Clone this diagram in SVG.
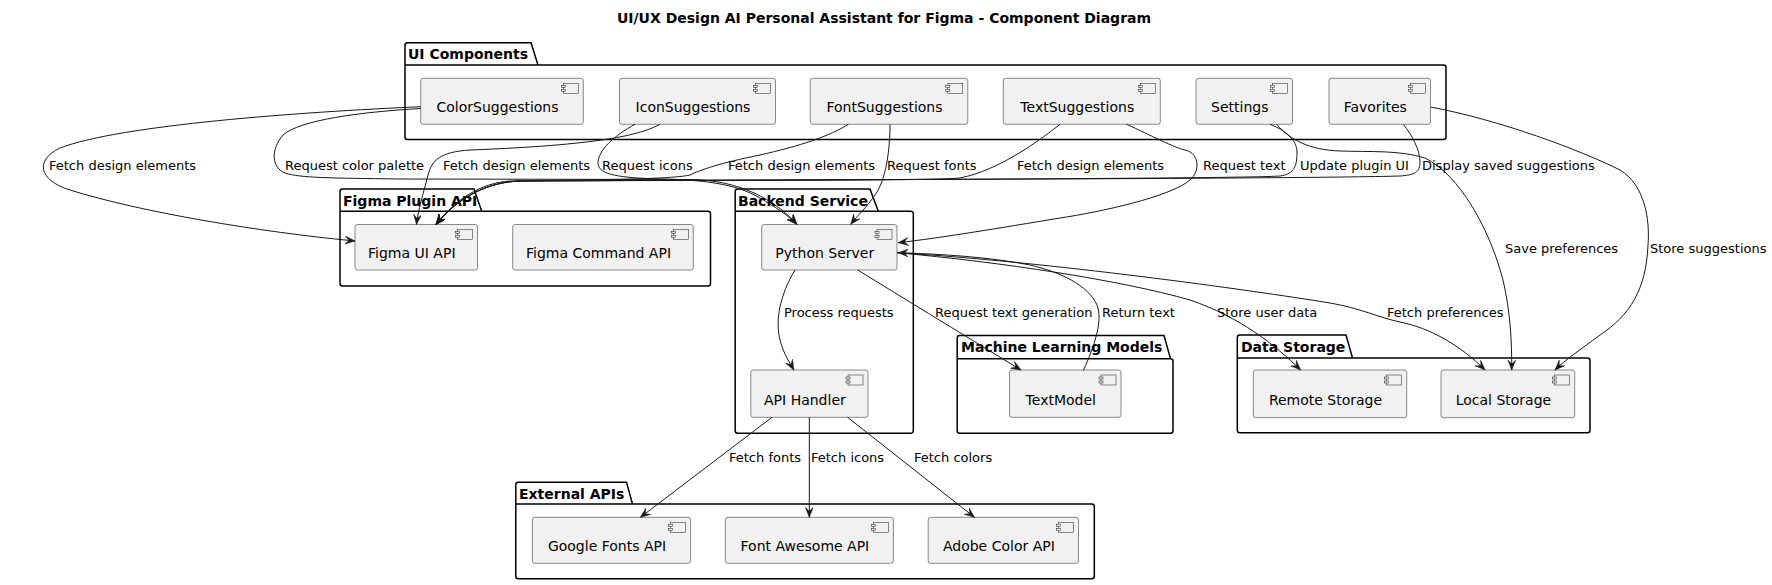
<svg xmlns="http://www.w3.org/2000/svg" width="1772" height="585" viewBox="0 0 1772 585">
<style>
.bg{fill:#ffffff}
.title{font-family:"DejaVu Sans",sans-serif;font-size:14px;font-weight:bold;fill:#000}
.pkg path{fill:none;stroke:#000;stroke-width:1.5}
.pkg text{font-family:"DejaVu Sans",sans-serif;font-size:14px;font-weight:bold;fill:#000}
.comp .box{fill:#F1F1F1;stroke:#181818;stroke-width:0.5}
.comp .ic{fill:#F1F1F1;stroke:#181818;stroke-width:0.5}
.comp text{font-family:"DejaVu Sans",sans-serif;font-size:14px;fill:#000;text-anchor:middle}
.edges path{fill:none;stroke:#181818;stroke-width:1;marker-end:url(#arr)}
.edges text{font-family:"DejaVu Sans",sans-serif;font-size:13px;fill:#000}
</style>
<defs>
<marker id="arr" markerUnits="userSpaceOnUse" markerWidth="12" markerHeight="10" refX="10" refY="4" orient="auto">
<path d="M0,0 L10,4 L0,8 L4,4 Z" fill="#181818" stroke="#181818" stroke-width="0.5"/>
</marker>
</defs>
<rect class="bg" x="0" y="0" width="1772" height="585"/>
<text class="title" x="884" y="23" text-anchor="middle">UI/UX Design AI Personal Assistant for Figma - Component Diagram</text>

<g id="pkg-ui" class="pkg">
<path d="M405,45.2 A2.5,2.5 0 0 1 407.5,42.7 L531,42.7 L538,65 L1443.5,65 A2.5,2.5 0 0 1 1446,67.5 L1446,137 A2.5,2.5 0 0 1 1443.5,139.5 L407.5,139.5 A2.5,2.5 0 0 1 405,137 Z M405,65 L538,65"/>
<text x="408" y="59">UI Components</text>
</g>
<g id="pkg-figma" class="pkg">
<path d="M340,191.5 A2.5,2.5 0 0 1 342.5,189 L474,189 L481.7,211.3 L708,211.3 A2.5,2.5 0 0 1 710.5,213.8 L710.5,283.5 A2.5,2.5 0 0 1 708,286 L342.5,286 A2.5,2.5 0 0 1 340,283.5 Z M340,211.3 L481.7,211.3"/>
<text x="343" y="205.5">Figma Plugin API</text>
</g>
<g id="pkg-backend" class="pkg">
<path d="M735.2,191.5 A2.5,2.5 0 0 1 737.7,189 L870,189 L878.3,211.3 L910.8,211.3 A2.5,2.5 0 0 1 913.3,213.8 L913.3,430.8 A2.5,2.5 0 0 1 910.8,433.3 L737.7,433.3 A2.5,2.5 0 0 1 735.2,430.8 Z M735.2,211.3 L878.3,211.3"/>
<text x="738" y="205.5">Backend Service</text>
</g>
<g id="pkg-ml" class="pkg">
<path d="M957.2,338 A2.5,2.5 0 0 1 959.7,335.5 L1164,335.5 L1170.5,358.7 A2.5,2.5 0 0 1 1173,361.2 L1173,430.8 A2.5,2.5 0 0 1 1170.5,433.3 L959.7,433.3 A2.5,2.5 0 0 1 957.2,430.8 Z M957.2,358.7 L1170.5,358.7"/>
<text x="961" y="352">Machine Learning Models</text>
</g>
<g id="pkg-data" class="pkg">
<path d="M1237.3,337.5 A2.5,2.5 0 0 1 1239.8,335 L1346,335 L1352.5,358 L1587.5,358 A2.5,2.5 0 0 1 1590,360.5 L1590,430.2 A2.5,2.5 0 0 1 1587.5,432.7 L1239.8,432.7 A2.5,2.5 0 0 1 1237.3,430.2 Z M1237.3,358 L1352.5,358"/>
<text x="1241" y="351.5">Data Storage</text>
</g>
<g id="pkg-ext" class="pkg">
<path d="M515.8,484.8 A2.5,2.5 0 0 1 518.3,482.3 L626.5,482.3 L632.5,504 L1091.8,504 A2.5,2.5 0 0 1 1094.3,506.5 L1094.3,576.2 A2.5,2.5 0 0 1 1091.8,578.7 L518.3,578.7 A2.5,2.5 0 0 1 515.8,576.2 Z M515.8,504 L632.5,504"/>
<text x="519" y="498.5">External APIs</text>
</g>

<g id="colorsuggestions" class="comp">
<rect class="box" x="420.7" y="78.3" width="162.6" height="46" rx="2.5"/>
<rect class="ic" x="563.3" y="83.3" width="15" height="10"/><rect class="ic" x="561.3" y="85.3" width="4" height="2"/><rect class="ic" x="561.3" y="89.3" width="4" height="2"/>
<text x="497.5" y="111.8">ColorSuggestions</text>
</g>
<g id="iconsuggestions" class="comp">
<rect class="box" x="619.5" y="78.3" width="156" height="46" rx="2.5"/>
<rect class="ic" x="755.5" y="83.3" width="15" height="10"/><rect class="ic" x="753.5" y="85.3" width="4" height="2"/><rect class="ic" x="753.5" y="89.3" width="4" height="2"/>
<text x="693" y="111.8">IconSuggestions</text>
</g>
<g id="fontsuggestions" class="comp">
<rect class="box" x="810.3" y="78.3" width="157.5" height="46" rx="2.5"/>
<rect class="ic" x="947.8" y="83.3" width="15" height="10"/><rect class="ic" x="945.8" y="85.3" width="4" height="2"/><rect class="ic" x="945.8" y="89.3" width="4" height="2"/>
<text x="884.5" y="111.8">FontSuggestions</text>
</g>
<g id="textsuggestions" class="comp">
<rect class="box" x="1003.3" y="78.3" width="157" height="46" rx="2.5"/>
<rect class="ic" x="1140.3" y="83.3" width="15" height="10"/><rect class="ic" x="1138.3" y="85.3" width="4" height="2"/><rect class="ic" x="1138.3" y="89.3" width="4" height="2"/>
<text x="1077.3" y="111.8">TextSuggestions</text>
</g>
<g id="settings" class="comp">
<rect class="box" x="1196" y="78.3" width="96.5" height="46" rx="2.5"/>
<rect class="ic" x="1272.5" y="83.3" width="15" height="10"/><rect class="ic" x="1270.5" y="85.3" width="4" height="2"/><rect class="ic" x="1270.5" y="89.3" width="4" height="2"/>
<text x="1239.8" y="111.8">Settings</text>
</g>
<g id="favorites" class="comp">
<rect class="box" x="1329" y="78.3" width="101.5" height="46" rx="2.5"/>
<rect class="ic" x="1410.5" y="83.3" width="15" height="10"/><rect class="ic" x="1408.5" y="85.3" width="4" height="2"/><rect class="ic" x="1408.5" y="89.3" width="4" height="2"/>
<text x="1375.3" y="111.8">Favorites</text>
</g>

<g id="figmauiapi" class="comp">
<rect class="box" x="355" y="224.5" width="122.5" height="45.5" rx="2.5"/>
<rect class="ic" x="457.5" y="229.5" width="15" height="10"/><rect class="ic" x="455.5" y="231.5" width="4" height="2"/><rect class="ic" x="455.5" y="235.5" width="4" height="2"/>
<text x="411.8" y="258">Figma UI API</text>
</g>
<g id="figmacommandapi" class="comp">
<rect class="box" x="512.7" y="224.5" width="180.6" height="45.5" rx="2.5"/>
<rect class="ic" x="673.3" y="229.5" width="15" height="10"/><rect class="ic" x="671.3" y="231.5" width="4" height="2"/><rect class="ic" x="671.3" y="235.5" width="4" height="2"/>
<text x="598.5" y="258">Figma Command API</text>
</g>
<g id="pythonserver" class="comp">
<rect class="box" x="761.7" y="224.5" width="135.3" height="45.5" rx="2.5"/>
<rect class="ic" x="877" y="229.5" width="15" height="10"/><rect class="ic" x="875" y="231.5" width="4" height="2"/><rect class="ic" x="875" y="235.5" width="4" height="2"/>
<text x="824.8" y="258">Python Server</text>
</g>
<g id="apihandler" class="comp">
<rect class="box" x="750.8" y="370" width="117.2" height="47.3" rx="2.5"/>
<rect class="ic" x="848" y="375" width="15" height="10"/><rect class="ic" x="846" y="377" width="4" height="2"/><rect class="ic" x="846" y="381" width="4" height="2"/>
<text x="804.9" y="404.5">API Handler</text>
</g>
<g id="textmodel" class="comp">
<rect class="box" x="1009.5" y="370" width="111.5" height="47.3" rx="2.5"/>
<rect class="ic" x="1101" y="375" width="15" height="10"/><rect class="ic" x="1099" y="377" width="4" height="2"/><rect class="ic" x="1099" y="381" width="4" height="2"/>
<text x="1060.8" y="404.5">TextModel</text>
</g>
<g id="remotestorage" class="comp">
<rect class="box" x="1253.3" y="370" width="153.4" height="47.7" rx="2.5"/>
<rect class="ic" x="1386.7" y="375" width="15" height="10"/><rect class="ic" x="1384.7" y="377" width="4" height="2"/><rect class="ic" x="1384.7" y="381" width="4" height="2"/>
<text x="1325.5" y="404.5">Remote Storage</text>
</g>
<g id="localstorage" class="comp">
<rect class="box" x="1441" y="370" width="133.7" height="47.7" rx="2.5"/>
<rect class="ic" x="1554.7" y="375" width="15" height="10"/><rect class="ic" x="1552.7" y="377" width="4" height="2"/><rect class="ic" x="1552.7" y="381" width="4" height="2"/>
<text x="1503.4" y="404.5">Local Storage</text>
</g>
<g id="googlefontsapi" class="comp">
<rect class="box" x="532.4" y="517.3" width="158.2" height="46" rx="2.5"/>
<rect class="ic" x="670.6" y="522.3" width="15" height="10"/><rect class="ic" x="668.6" y="524.3" width="4" height="2"/><rect class="ic" x="668.6" y="528.3" width="4" height="2"/>
<text x="607" y="551">Google Fonts API</text>
</g>
<g id="fontawesomeapi" class="comp">
<rect class="box" x="725.4" y="517.3" width="168" height="46" rx="2.5"/>
<rect class="ic" x="873.4" y="522.3" width="15" height="10"/><rect class="ic" x="871.4" y="524.3" width="4" height="2"/><rect class="ic" x="871.4" y="528.3" width="4" height="2"/>
<text x="804.9" y="551">Font Awesome API</text>
</g>
<g id="adobecolorapi" class="comp">
<rect class="box" x="928.2" y="517.3" width="150.3" height="46" rx="2.5"/>
<rect class="ic" x="1058.5" y="522.3" width="15" height="10"/><rect class="ic" x="1056.5" y="524.3" width="4" height="2"/><rect class="ic" x="1056.5" y="528.3" width="4" height="2"/>
<text x="998.9" y="551">Adobe Color API</text>
</g>

<g id="connectors" class="edges">
<path d="M420.7,106.7 C300,112 120,125 60,148 C35,160 38,180 70,190 C140,212 260,232 355,241"/>
<text x="49" y="170.3">Fetch design elements</text>
<path d="M420.7,108.5 C360,112 300,120 283,135 C270,150 272,168 285,173 C300,178 330,178 400,179 L690,179.5 C740,180 775,200 797,224.3"/>
<text x="285" y="170.3">Request color palette</text>
<path d="M660,124.3 C640,135 600,145 470,150 C440,152 432,160 428,175 C423,195 418,210 416.5,224.5"/>
<text x="443" y="170.3">Fetch design elements</text>
<path d="M635,124.3 C615,135 598,150 598,163 C598,175 620,178 663,179 C700,180 735,183 760,198 C775,207 788,215 796.7,224.3"/>
<text x="602" y="170.3">Request icons</text>
<path d="M848.3,124.3 C830,136 800,146 760,155 C720,163 700,170 690,175 C670,180 560,180 510,181 C480,183 455,200 436,224.5"/>
<text x="728" y="170.3">Fetch design elements</text>
<path d="M890,124.3 C890,150 886,180 875,195 C866,208 858,215 850.7,224.3"/>
<text x="887" y="170.3">Request fonts</text>
<path d="M1060,124.3 C1040,140 1000,170 960,178 C930,181 700,180 520,181 C490,182 460,195 436,224.5"/>
<text x="1017" y="170.3">Fetch design elements</text>
<path d="M1126.7,124.3 C1150,135 1175,148 1185,150 C1200,153 1200,172 1190,180 C1170,197 1100,212 1060,218 C1000,228 940,238 898.3,242.7"/>
<text x="1203" y="170.3">Request text</text>
<path d="M1270,124.3 C1285,130 1297,140 1297,152 C1297,165 1295,174 1280,176 C1240,179 700,180 520,181 C490,182 460,195 436,224.5"/>
<text x="1300" y="170.3">Update plugin UI</text>
<path d="M1276.7,124.3 C1290,140 1310,150 1340,151 C1370,152 1400,150 1425,158 C1460,175 1490,230 1503,280 C1510,310 1512,340 1511.7,370"/>
<text x="1505" y="252.5">Save preferences</text>
<path d="M1403.3,124.3 C1412,135 1420,150 1420,162 C1420,172 1415,175 1400,176 C1300,179 700,180 520,181 C490,182 460,195 436,224.5"/>
<text x="1422" y="170.3">Display saved suggestions</text>
<path d="M1430.5,107 C1500,120 1580,150 1620,170 C1645,185 1650,220 1648,245 C1646,290 1630,315 1600,335 C1580,350 1565,360 1555,370"/>
<text x="1650" y="252.5">Store suggestions</text>
<path d="M795,270 C780,295 775,320 780,340 C784,355 790,363 793.8,370"/>
<text x="784" y="316.5">Process requests</text>
<path d="M857.7,270 C900,296 980,345 1021,370"/>
<text x="935" y="316.5">Request text generation</text>
<path d="M1083.3,370.5 C1095,345 1103,320 1097,305 C1088,285 1060,272 1030,265 C990,257 940,254 898.3,252.7"/>
<text x="1102" y="316.5">Return text</text>
<path d="M897,252.7 C1000,262 1120,280 1190,300 C1240,317 1275,345 1300.7,370"/>
<text x="1217" y="316.5">Store user data</text>
<path d="M897,252.7 C1050,262 1250,290 1330,303 C1360,308 1380,318 1400,322 C1430,328 1460,345 1485,370"/>
<text x="1387" y="316.5">Fetch preferences</text>
<path d="M772,417.3 L640.4,517.3"/>
<text x="729" y="461.8">Fetch fonts</text>
<path d="M809.3,417.3 L809.3,517.3"/>
<text x="811" y="461.8">Fetch icons</text>
<path d="M847.6,417.3 L974.5,517.3"/>
<text x="914" y="461.8">Fetch colors</text>
</g>
</svg>
